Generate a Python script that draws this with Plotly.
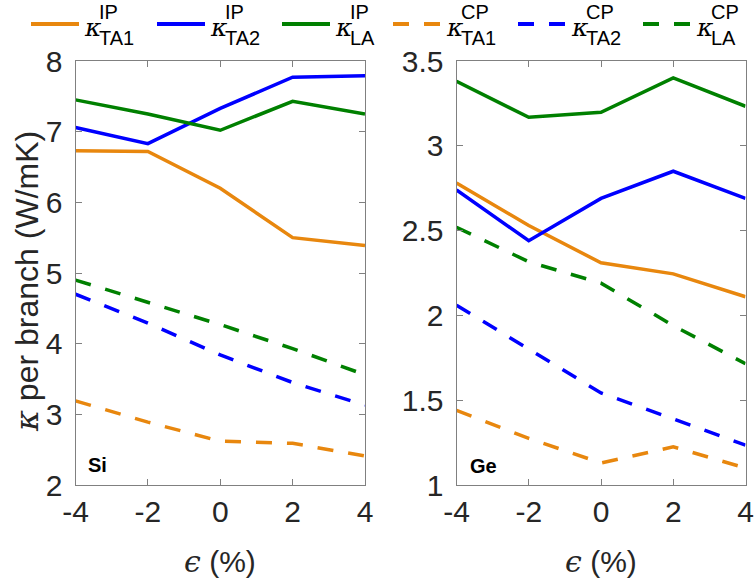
import plotly.graph_objects as go

# ---------------- data ----------------
strain = [-4, -2, 0, 2, 4]
xtick_labels = ["-4", "-2", "0", "2", "4"]

# Si (left panel)
si_ip_ta1 = [6.73, 6.72, 6.20, 5.50, 5.39]
si_ip_ta2 = [7.06, 6.83, 7.33, 7.77, 7.79]
si_ip_la = [7.45, 7.25, 7.02, 7.43, 7.25]
si_cp_ta1 = [3.19, 2.89, 2.62, 2.59, 2.41]
si_cp_ta2 = [4.70, 4.29, 3.84, 3.45, 3.13]
si_cp_la = [4.90, 4.59, 4.27, 3.93, 3.56]

# Ge (right panel)
ge_ip_ta1 = [2.78, 2.53, 2.31, 2.245, 2.11]
ge_ip_ta2 = [2.74, 2.44, 2.69, 2.85, 2.69]
ge_ip_la = [3.38, 3.168, 3.198, 3.40, 3.233]
ge_cp_ta1 = [1.44, 1.275, 1.13, 1.225, 1.10]
ge_cp_ta2 = [2.06, 1.80, 1.543, 1.39, 1.235]
ge_cp_la = [2.52, 2.316, 2.19, 1.94, 1.715]

sup_labels = ["IP", "IP", "IP", "CP", "CP", "CP"]
sub_labels = ["TA1", "TA2", "LA", "TA1", "TA2", "LA"]

# ---------------- styles ----------------
ORANGE = "#E8870E"
BLUE = "#0000FF"
GREEN = "#008000"
DASH = "16px,15px"
colors = [ORANGE, BLUE, GREEN, ORANGE, BLUE, GREEN]
dashes = ["solid", "solid", "solid", DASH, DASH, DASH]
LW = 3.5
AXC = "#808080"
FONT = "Liberation Sans, Arial, sans-serif"
SERIF = "DejaVu Serif, Liberation Serif, serif"

W, H = 756, 580
si_series = [si_ip_ta1, si_ip_ta2, si_ip_la, si_cp_ta1, si_cp_ta2, si_cp_la]
ge_series = [ge_ip_ta1, ge_ip_ta2, ge_ip_la, ge_cp_ta1, ge_cp_ta2, ge_cp_la]

fig = go.Figure()
for i in range(6):
    fig.add_trace(go.Scatter(x=strain, y=si_series[i], mode="lines",
                             line=dict(color=colors[i], width=LW, dash=dashes[i]),
                             showlegend=False, xaxis="x", yaxis="y"))
    fig.add_trace(go.Scatter(x=strain, y=ge_series[i], mode="lines",
                             line=dict(color=colors[i], width=LW, dash=dashes[i]),
                             showlegend=False, xaxis="x2", yaxis="y2"))

px = lambda v: v / W
py = lambda v: 1 - v / H

ydom = [py(485), py(61)]
common_axis = dict(showline=True, linecolor=AXC, linewidth=1, mirror="ticks",
                   ticks="inside", ticklen=6, tickcolor=AXC, showgrid=False,
                   zeroline=False, tickfont=dict(family=FONT, size=30, color="#262626"),
                   automargin=False)

fig.update_layout(
    width=W, height=H,
    margin=dict(l=0, r=0, t=0, b=0),
    paper_bgcolor="white", plot_bgcolor="white",
    xaxis=dict(domain=[px(75.5), px(365)], range=[-4, 4], tickvals=strain,
               ticktext=xtick_labels, anchor="y", ticklabelstandoff=0, **common_axis),
    yaxis=dict(domain=ydom, range=[2, 8], dtick=1, anchor="x",
               ticklabelstandoff=6, **common_axis),
    xaxis2=dict(domain=[px(456.5), px(745.5)], range=[-4, 4], tickvals=strain,
                ticktext=xtick_labels, anchor="y2", ticklabelstandoff=0, **common_axis),
    yaxis2=dict(domain=ydom, range=[1, 3.5], dtick=0.5, anchor="x2",
                ticklabelstandoff=6, **common_axis),
)

ann = []
shapes = []
# custom legend (stacked super/subscripts like LaTeX)
leg_x = [31, 157, 282, 393, 518, 643]
for i in range(6):
    x0 = leg_x[i]
    shapes.append(dict(type="line", xref="paper", yref="paper",
                       x0=px(x0), x1=px(x0 + 48), y0=py(24), y1=py(24),
                       line=dict(color=colors[i], width=4, dash=dashes[i])))
    ann.append(dict(xref="paper", yref="paper", x=px(x0 + 52), y=py(28),
                    xanchor="left", yanchor="middle", showarrow=False, borderpad=0,
                    text="<i>κ</i>", font=dict(family=SERIF, size=25, color="black")))
    ann.append(dict(xref="paper", yref="paper", x=px(x0 + 67), y=py(25),
                    xanchor="left", yanchor="middle", showarrow=False, borderpad=0,
                    align="left",
                    text=sup_labels[i] + "<br>" + sub_labels[i],
                    font=dict(family=FONT, size=20, color="black")))

# axis titles
ann.append(dict(xref="paper", yref="paper", x=px(27), y=py(282),
                xanchor="center", yanchor="middle", showarrow=False, textangle=-90,
                text="<span style='font-family:DejaVu Serif'><i>κ</i></span> per branch (W/mK)",
                font=dict(family=FONT, size=32, color="#262626")))
for (a, b) in [(75.5, 365), (456.5, 745.5)]:
    ann.append(dict(xref="paper", yref="paper", x=px((a + b) / 2), y=py(561),
                    xanchor="center", yanchor="middle", showarrow=False,
                    text="<span style='font-family:DejaVu Serif'><i>ϵ</i></span> (%)",
                    font=dict(family=FONT, size=30, color="#262626")))

# panel labels
ann.append(dict(xref="paper", yref="paper", x=px(86), y=py(465), xanchor="left",
                yanchor="middle", showarrow=False, text="<b>Si</b>",
                font=dict(family=FONT, size=20, color="black")))
ann.append(dict(xref="paper", yref="paper", x=px(468), y=py(466), xanchor="left",
                yanchor="middle", showarrow=False, text="<b>Ge</b>",
                font=dict(family=FONT, size=20, color="black")))

fig.update_layout(annotations=ann, shapes=shapes)
fig.write_html("out.html")
